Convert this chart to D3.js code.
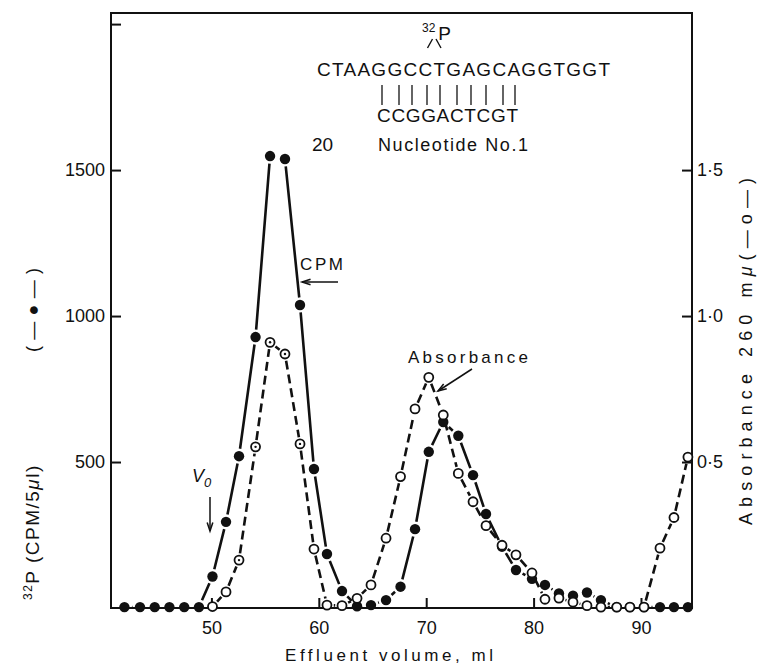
<!DOCTYPE html>
<html><head><meta charset="utf-8">
<script src="https://cdn.jsdelivr.net/npm/d3@7"></script>
<style>html,body{margin:0;padding:0;background:#fff}svg{display:block}text{font-family:"Liberation Sans",Arial,sans-serif;fill:#111}</style>
</head><body>
<svg id="c" width="759" height="666"></svg>
<script>
// ---- data ----
const volumes = [41.90,43.35,44.72,46.09,47.47,48.84,50.10,51.36,52.57,54.11,55.46,56.85,58.25,59.55,60.76,62.16,63.56,64.86,66.26,67.61,68.96,70.24,71.59,72.99,74.36,75.57,77.06,78.36,79.85,81.06,82.36,83.67,84.97,86.27,87.74,88.97,90.28,91.77,93.07,94.37];
const cpm = [3,3,3,3,3,3,108,295,520,928,1548,1538,1038,476,185,58,6,10,27,73,270,535,637,590,455,322,210,130,100,79,50,42,53,27,3,3,3,3,3,3];
const absorbance = [null,null,null,null,null,null,0.005,0.055,0.164,0.552,0.91,0.87,0.562,0.202,0.01,0.008,0.033,0.079,0.239,0.45,0.682,0.79,0.661,0.461,0.364,0.282,0.215,0.182,0.12,0.03,0.034,0.02,0.008,0.003,0.003,0.003,0.003,0.205,0.31,0.517];
const dottedOpen = [8,9,10,11,12]; // open circles drawn with a centre dot
const xTicks = [50,60,70,80,90];
const yLeftTicks = [500,1000,1500,2000];
const yLeftLabels = ["500","1000","1500",""];
const yRightTicks = [0.5,1.0,1.5];
const yRightLabels = ["0·5","1·0","1·5"];
const upperSeq = "CTAAGGCCTGAGCAGGTGGT";
const lowerSeq = "CCGGACTCGT";

// ---- layout ----
const svg = d3.select("#c");
const L=111, R=692, T=13, B=608;
const x = d3.scaleLinear().domain([40.65,94.75]).range([L,R]);
const y = d3.scaleLinear().domain([0,2038]).range([B,T]);
const yAbs = d3.scaleLinear().domain([0,2.038]).range([B,T]);

// frame
svg.append("rect").attr("x",L).attr("y",T).attr("width",R-L).attr("height",B-T)
  .attr("fill","none").attr("stroke","#111").attr("stroke-width",2);

// axes (ticks inward)
const fs = 18;
const ax = svg.append("g").attr("transform",`translate(0,${B})`)
  .call(d3.axisBottom(x).tickValues(xTicks).tickSizeInner(-10).tickSizeOuter(0).tickPadding(13));
const ayl = svg.append("g").attr("transform",`translate(${L},0)`)
  .call(d3.axisLeft(y).tickValues(yLeftTicks).tickFormat((d,i)=>yLeftLabels[i]).tickSizeInner(-10).tickSizeOuter(0).tickPadding(6));
const ayr = svg.append("g").attr("transform",`translate(${R},0)`)
  .call(d3.axisRight(yAbs).tickValues(yRightTicks).tickFormat((d,i)=>yRightLabels[i]).tickSizeInner(-10).tickSizeOuter(0).tickPadding(5));
[ax,ayl,ayr].forEach(g=>{
  g.select(".domain").remove();
  g.selectAll("line").attr("stroke","#111").attr("stroke-width",2);
  g.selectAll("text").attr("font-size",fs).attr("font-family","Liberation Sans, Arial, sans-serif").attr("fill","#111");
});
ayr.selectAll("text").attr("x",5);

// ---- series ----
const rF=5.2, rO=4.5, gap=2.3;
const cpmPts = volumes.map((v,i)=>({i,px:x(v),py:y(cpm[i])}));
const absPts = volumes.map((v,i)=>({i,v,a:absorbance[i]})).filter(d=>d.a!==null)
  .map(d=>({i:d.i,px:x(d.v),py:yAbs(d.a)}));

function gappedPath(pts, r){
  let p="";
  for(let k=0;k<pts.length-1;k++){
    const a=pts[k], b=pts[k+1];
    const dx=b.px-a.px, dy=b.py-a.py, len=Math.hypot(dx,dy);
    const cut=r+gap;
    if(len<=2*cut+0.5) continue;
    const ux=dx/len, uy=dy/len;
    p+=`M${a.px+ux*cut},${a.py+uy*cut}L${b.px-ux*cut},${b.py-uy*cut}`;
  }
  return p;
}

// absorbance dashed line
svg.append("path").attr("d",gappedPath(absPts,rO)).attr("fill","none")
  .attr("stroke","#111").attr("stroke-width",2.6).attr("stroke-dasharray","9,5");
// cpm solid line
svg.append("path").attr("d",gappedPath(cpmPts,rF)).attr("fill","none")
  .attr("stroke","#111").attr("stroke-width",2.6);

// markers
svg.append("g").selectAll("circle").data(cpmPts).join("circle")
  .attr("cx",d=>d.px).attr("cy",d=>d.py).attr("r",rF).attr("fill","#111");
svg.append("g").selectAll("circle").data(absPts).join("circle")
  .attr("cx",d=>d.px).attr("cy",d=>d.py).attr("r",rO).attr("fill","#fff")
  .attr("stroke","#111").attr("stroke-width",1.8);
svg.append("g").selectAll("circle").data(absPts.filter(d=>dottedOpen.includes(d.i))).join("circle")
  .attr("cx",d=>d.px).attr("cy",d=>d.py).attr("r",1.2).attr("fill","#111");

// ---- arrow helper ----
function arrow(x1,y1,x2,y2){
  svg.append("line").attr("x1",x1).attr("y1",y1).attr("x2",x2).attr("y2",y2)
    .attr("stroke","#111").attr("stroke-width",1.5);
  const ang=Math.atan2(y2-y1,x2-x1), h=9, w=0.32;
  const p1=[x2-h*Math.cos(ang-w), y2-h*Math.sin(ang-w)];
  const p2=[x2-h*Math.cos(ang+w), y2-h*Math.sin(ang+w)];
  svg.append("path").attr("d",`M${p1}L${x2},${y2}L${p2}`).attr("fill","none")
    .attr("stroke","#111").attr("stroke-width",1.5);
}

// annotations
svg.append("text").attr("x",300).attr("y",270).attr("font-size",17).attr("textLength",43).text("CPM");
arrow(338,282,302,282);
svg.append("text").attr("x",408).attr("y",363).attr("font-size",17).attr("textLength",120).text("Absorbance");
arrow(472,369,438,391);
const v0=svg.append("text").attr("x",192).attr("y",482).attr("font-size",18).attr("font-style","italic");
v0.append("tspan").text("V");
v0.append("tspan").attr("font-size",13).attr("dy",5).text("0");
arrow(210,497,210,531);

// sequence block
const p32=svg.append("text").attr("x",422).attr("y",40).attr("font-size",19);
p32.append("tspan").attr("font-size",12).attr("dy",-8).text("32");
p32.append("tspan").attr("dy",8).attr("dx",3).text("P");
svg.append("path").attr("d","M427.5,48L432.5,39M436,39L441,48").attr("stroke","#111").attr("stroke-width",1.4).attr("fill","none");
svg.append("text").attr("x",317).attr("y",76).attr("font-size",19).attr("textLength",293).attr("lengthAdjust","spacing").text(upperSeq);
const barX=[382,399,412,427,440,457,471,486,503,515];
svg.append("g").selectAll("line").data(barX).join("line")
  .attr("x1",d=>d).attr("x2",d=>d).attr("y1",85).attr("y2",105).attr("stroke","#111").attr("stroke-width",1.3);
svg.append("text").attr("x",377).attr("y",122).attr("font-size",19).attr("textLength",141).attr("lengthAdjust","spacing").text(lowerSeq);
svg.append("text").attr("x",312).attr("y",151).attr("font-size",19).text("20");
svg.append("text").attr("x",378).attr("y",151).attr("font-size",18).attr("textLength",150).attr("lengthAdjust","spacing").text("Nucleotide No.1");

// axis titles
svg.append("text").attr("x",389).attr("y",661).attr("font-size",17).attr("text-anchor","middle")
  .attr("textLength",208).attr("lengthAdjust","spacing").text("Effluent volume, ml");

const lt=svg.append("text").attr("transform","translate(39,600) rotate(-90)").attr("font-size",19)
  .attr("letter-spacing",1.5);
lt.append("tspan").attr("font-size",12).attr("dy",-7).text("32");
lt.append("tspan").attr("dy",7).text("P  (CPM/5");
lt.append("tspan").attr("font-style","italic").text("μ");
lt.append("tspan").text("l)");
svg.append("text").attr("transform","translate(39,352) rotate(-90)").attr("font-size",18)
  .attr("textLength",84).attr("lengthAdjust","spacing").text("(—●—)");

const rt=svg.append("text").attr("transform","translate(752,525) rotate(-90)").attr("font-size",18)
  .attr("textLength",347).attr("lengthAdjust","spacing");
rt.append("tspan").text("Absorbance  260 m");
rt.append("tspan").attr("font-style","italic").text("μ");
rt.append("tspan").text("(—o—)");
</script>
</body></html>
